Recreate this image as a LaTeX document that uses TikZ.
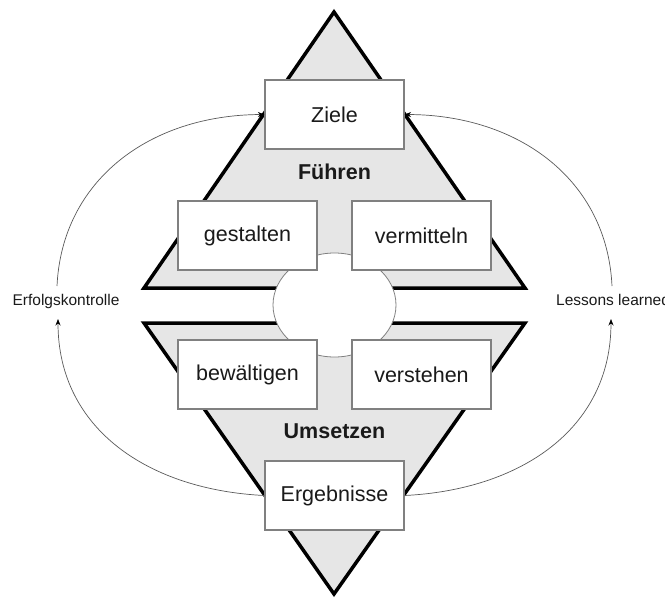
\documentclass[tikz,border=0pt]{standalone}
\usepackage{fontspec}
\setmainfont{Liberation Sans}
\usetikzlibrary{arrows.meta,shapes.geometric}
\definecolor{trifill}{HTML}{E6E6E6}
\definecolor{boxline}{HTML}{808080}
\definecolor{txt}{HTML}{1A1A1A}
\begin{document}
\begin{tikzpicture}[x=1pt,y=-1pt,
  box/.style={draw=boxline,line width=1.2pt,fill=white,minimum width=139pt,minimum height=69pt,inner sep=0pt,font=\fontsize{21.5}{26}\selectfont,text=txt},
  tri/.style={fill=trifill,draw=black,line width=3.5pt,line join=miter},
  hubstyle/.style={ellipse,draw=boxline,line width=0.8pt,fill=white,minimum width=123pt,minimum height=104pt,inner sep=0pt},
  lbl/.style={font=\fontsize{15.5}{19}\selectfont,text=txt,inner sep=0pt},
  head/.style={font=\fontsize{21.5}{26}\selectfont\bfseries,text=txt,inner sep=0pt},
  flow/.style={draw=black!65,line width=0.7pt,-{Stealth[length=6.5pt,width=5pt,color=black]}}]
\useasboundingbox (0,0) rectangle (665,600);
% triangles
\draw[tri] (334,12) -- (525,288) -- (144,288) -- cycle;
\draw[tri] (144,323) -- (525,323) -- (334,594) -- cycle;
% central ellipse
\node[hubstyle] (hub) at (334.5,305) {};
% boxes
\node[box] (ziele) at (334.5,114.5) {Ziele};
\node[box] (gest) at (247.5,235.5) {gestalten};
\node[box] (verm) at (421.5,235.5) {vermitteln};
\node[box] (bew) at (247.5,374.5) {bewältigen};
\node[box] (vers) at (421.5,374.5) {verstehen};
\node[box] (erg) at (334.5,495.5) {Ergebnisse};
% headings
\node[head] (fuehren) at (334.5,172) {Führen};
\node[head] (umsetzen) at (334.5,431.5) {Umsetzen};
% side labels
\node[lbl,anchor=base] (ek) at (66,305) {Erfolgskontrolle};
\node[lbl,anchor=base west] (ll) at (556,305) {Lessons learned};
\coordinate (ekb) at (58,319);
\coordinate (ekt) at (57,286);
\coordinate (llb) at (611,319);
\coordinate (llt) at (612,286);
% feedback arrows
\draw[flow] (erg.west) .. controls (150,490) and (58,430) .. (ekb);
\draw[flow] (ekt) .. controls (62,180) and (150,115) .. (ziele.west);
\draw[flow] (erg.east) .. controls (519,490) and (611,430) .. (llb);
\draw[flow] (llt) .. controls (607,180) and (519,115) .. (ziele.east);
\end{tikzpicture}
\end{document}
